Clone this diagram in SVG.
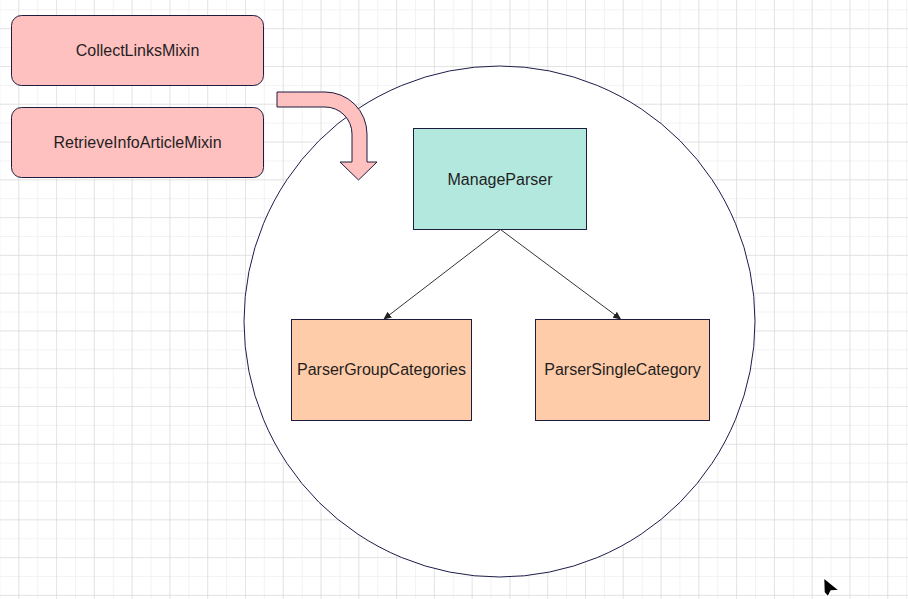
<svg xmlns="http://www.w3.org/2000/svg" width="908" height="599" viewBox="0 0 908 599">
<style>
.lbl{font-family:"Liberation Sans",Arial,sans-serif;font-size:16px;fill:#1f1f1f;text-anchor:middle;dominant-baseline:central}
.mixin{fill:#ffc0c0;stroke:#1c1c3e;stroke-width:1}
.cls{stroke:#1c1c3e;stroke-width:1}
.edge{stroke:#333333;stroke-width:1;fill:none}
</style>
<defs>
<pattern id="minor" width="18.89" height="18.89" patternUnits="userSpaceOnUse" x="-0.6" y="9.3">
<path d="M0 0H18.89M0 0V18.89" fill="none" stroke="#e8e8e8" stroke-width="1"/>
</pattern>
<pattern id="major" width="37.78" height="37.78" patternUnits="userSpaceOnUse" x="18.3" y="28.2">
<path d="M0 0H37.78M0 0V37.78" fill="none" stroke="#d6d6d6" stroke-width="1"/>
</pattern>
<marker id="arr" viewBox="0 0 10 10" refX="9" refY="5" markerWidth="8" markerHeight="8" orient="auto" markerUnits="userSpaceOnUse">
<path d="M0 0.5L10 5L0 9.5Z" fill="#222222"/>
</marker>
</defs>
<rect width="908" height="599" fill="#ffffff"/>
<rect width="908" height="599" fill="url(#minor)"/>
<rect width="908" height="599" fill="url(#major)"/>

<g id="scope">
<circle cx="499.5" cy="321.5" r="255.5" fill="#ffffff" stroke="#1c1c4a" stroke-width="1"/>
</g>

<g id="CollectLinksMixin">
<rect class="mixin" x="11.5" y="15.5" width="252" height="70" rx="10" ry="10"/>
<text class="lbl" x="137.5" y="50.5">CollectLinksMixin</text>
</g>

<g id="RetrieveInfoArticleMixin">
<rect class="mixin" x="11.5" y="107.5" width="252" height="70" rx="10" ry="10"/>
<text class="lbl" x="137.5" y="142.5">RetrieveInfoArticleMixin</text>
</g>

<g id="bendArrow">
<path d="M277 92H325A42 42 0 0 1 367 134V162H377L358.5 180L340 162H352V134A27 27 0 0 0 325 107H277Z" fill="#ffc0c0" stroke="#1c1c3e" stroke-width="1"/>
</g>

<g id="ManageParser">
<rect class="cls" x="413.5" y="128.5" width="173" height="101" fill="#b3e8df"/>
<text class="lbl" x="500" y="179.5">ManageParser</text>
</g>

<g id="ParserGroupCategories">
<rect class="cls" x="291.5" y="319.5" width="180" height="101" fill="#ffcca9"/>
<text class="lbl" x="381.5" y="369.5">ParserGroupCategories</text>
</g>

<g id="ParserSingleCategory">
<rect class="cls" x="535.5" y="319.5" width="174" height="101" fill="#ffcca9"/>
<text class="lbl" x="622.5" y="369.5">ParserSingleCategory</text>
</g>

<g id="connectors">
<path class="edge" d="M500.5 229.5L384 319" marker-end="url(#arr)"/>
<path class="edge" d="M500.5 229.5L620.5 319" marker-end="url(#arr)"/>
</g>

<g id="cursor">
<path d="M823.5 577.5L839.5 590.5L831 591L828 597L824 592.5Z" fill="#000000" stroke="#ffffff" stroke-width="1.5" stroke-linejoin="round"/>
</g>
</svg>
